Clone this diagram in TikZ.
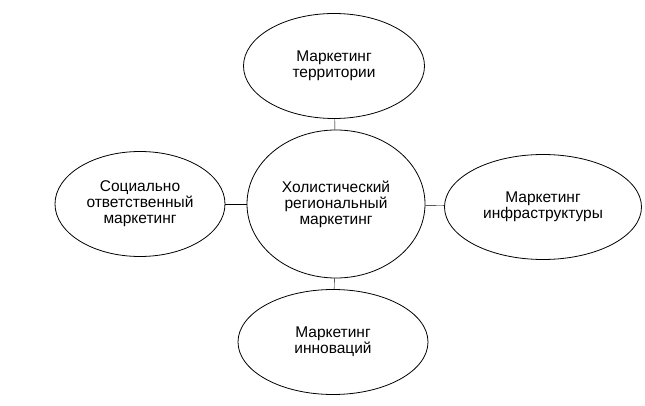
\documentclass[tikz,border=0pt]{standalone}
\usepackage{fontspec}
\setmainfont{Liberation Sans}
\usetikzlibrary{shapes.geometric}

\tikzset{
  bubble/.style={draw, ellipse, inner sep=0pt, line width=0.8pt,
    align=center, font=\fontsize{15.5}{16}\selectfont}
}

\begin{document}
\begin{tikzpicture}[x=1pt,y=-1pt]

\useasboundingbox (0,0) rectangle (645,406);

% Centre
\node[bubble, minimum width=178, minimum height=148] (centre) at (336,204)
{Холистический\\региональный\\маркетинг};

% Autour
\node[bubble, minimum width=181, minimum height=105] (haut) at (334,66)
{Маркетинг\\территории};

\node[bubble, minimum width=170, minimum height=105] (gauche) at (140,204)
{Социально\\ответственный\\маркетинг};

\node[bubble, minimum width=197, minimum height=105] (droite) at (543,207)
{Маркетинг\\инфраструктуры};

\node[bubble, minimum width=190, minimum height=105] (bas) at (333,342)
{Маркетинг\\инноваций};

\draw (haut) -- (centre);
\draw (gauche) -- (centre);
\draw (droite) -- (centre);
\draw (bas) -- (centre);

\end{tikzpicture}
\end{document}
